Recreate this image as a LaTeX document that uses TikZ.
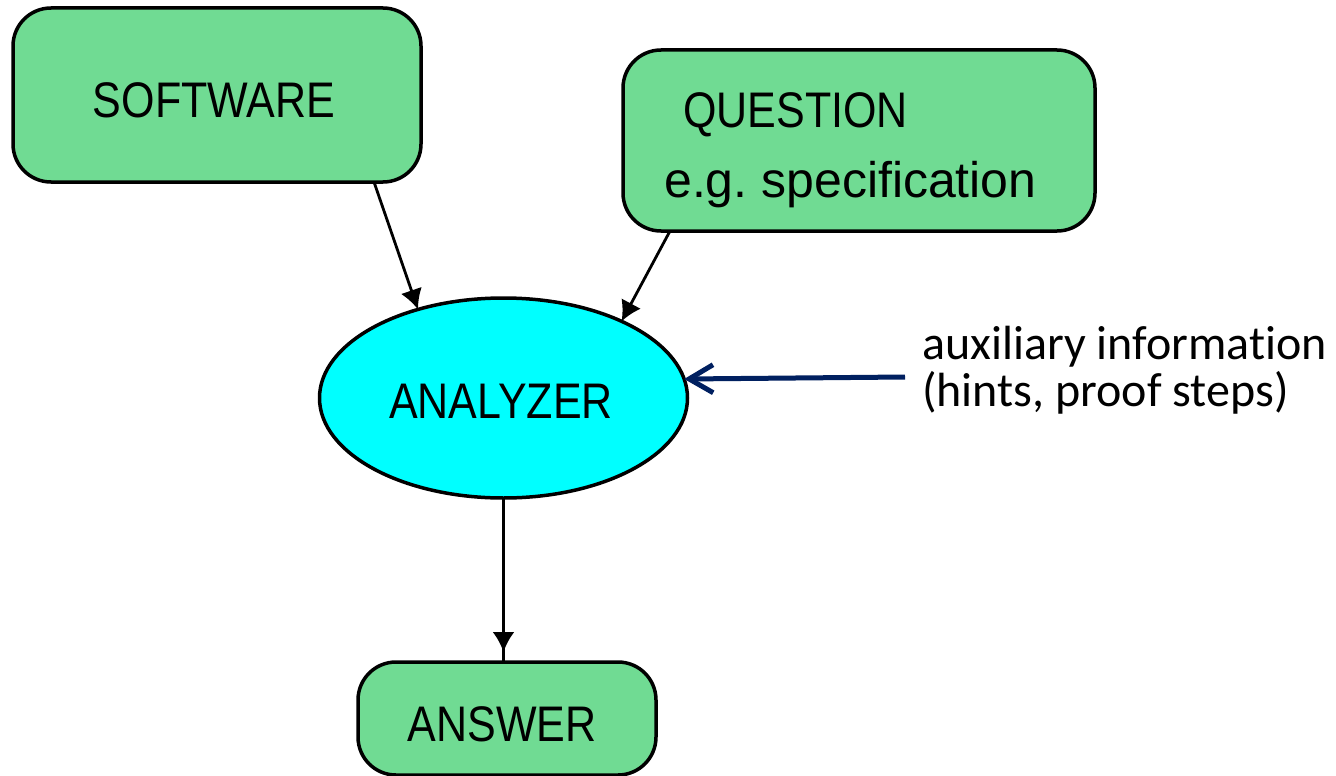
\documentclass[tikz,border=0pt]{standalone}
\usepackage{fontspec}
\usetikzlibrary{arrows.meta,decorations.markings,shapes.geometric}
\newfontfamily\capsfont[FakeStretch=0.86]{Liberation Sans}
\newfontfamily\plainfont{Liberation Sans}
\newfontfamily\notefont[Ligatures=NoCommon]{Carlito}
\definecolor{boxgreen}{RGB}{112,219,147}
\definecolor{brightcyan}{RGB}{0,255,255}
\definecolor{navyblue}{RGB}{0,32,96}

\begin{document}
\begin{tikzpicture}[x=1pt,y=-1pt,
  box/.style={draw=black, line width=3.5pt, fill=boxgreen, rounded corners=38pt,
              inner sep=0pt, outer sep=0pt},
  capslabel/.style={font=\capsfont\fontsize{50}{60}\selectfont},
  flowtip/.style={-{Latex[length=20pt,width=22pt]}},
  flow/.style={line width=2.8pt, flowtip},
]
\fill[white] (0,0) rectangle (1336,776);
\useasboundingbox (0,0) rectangle (1336,776);

% inputs
\node[box, capslabel, minimum width=408pt, minimum height=174pt,
      text height=45pt, text depth=0pt] (sw) at (217,95) {SOFTWARE\kern6pt};
\node[box, minimum width=472pt, minimum height=181pt] (q) at (859,140.5) {};
\node[capslabel, anchor=base west, inner sep=0pt] (qtitle) at (683,127) {QUESTION};
\node[font=\plainfont\fontsize{50}{60}\selectfont, anchor=base west, inner sep=0pt]
      (qnote) at (664,197) {e.g.\ specification};

% the analyzer
\node[ellipse, draw=black, line width=3.5pt, fill=brightcyan, minimum width=368pt,
      minimum height=200pt, inner sep=0pt, outer sep=0pt, capslabel,
      text height=40pt, text depth=0pt] (an) at (503.5,398) {ANALYZER\kern5pt};

% output
\node[box, capslabel, minimum width=298pt, minimum height=113pt,
      text height=45pt, text depth=0pt] (aw) at (507,718.5) {ANSWER\kern10pt};

% side note
\node[font=\notefont\fontsize{48}{47}\selectfont, align=left, anchor=west,
      inner xsep=17pt, inner ysep=0pt] (aux) at (905,370)
      {auxiliary information\\(hints, proof steps)};

% connectors
\draw[flow] ([xshift=-47pt]sw.south east) -- (an.134.5);
\draw[flow] ([xshift=47pt]q.south west) -- (an.33);
\draw[line width=2.8pt, postaction=decorate,
      decoration={markings, mark=at position -10pt with {\arrow{Latex[length=20pt,width=22pt]}}}]
      (an.south) -- (an.south |- aw.north);
\draw[navyblue, line width=5pt, -{Straight Barb[length=24pt,width=28pt]}]
      ([yshift=-7pt]aux.west) -- (an.6.7);
\end{tikzpicture}
\end{document}
